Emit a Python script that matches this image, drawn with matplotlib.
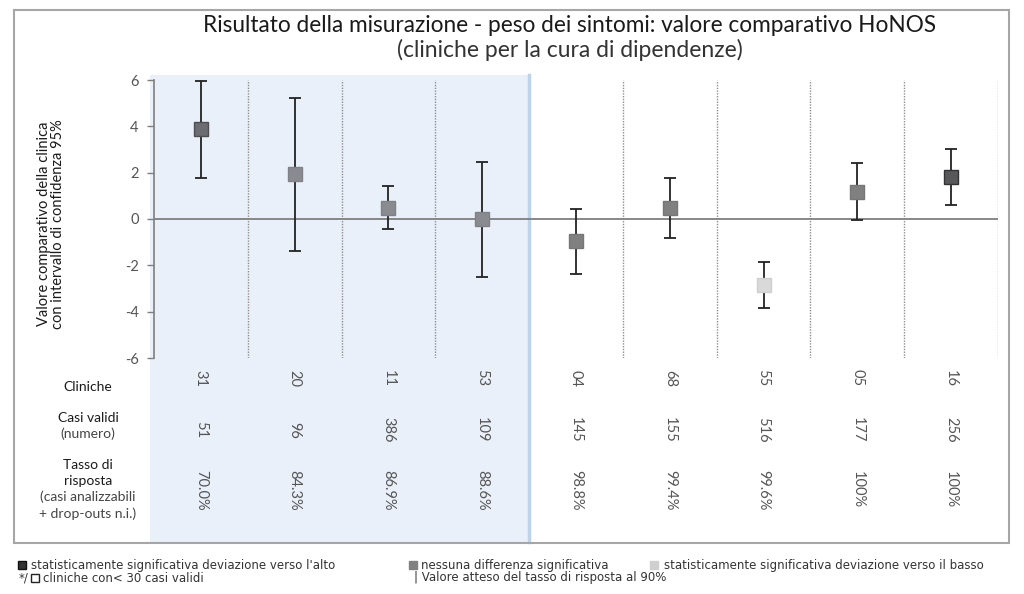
import matplotlib
matplotlib.use("Agg")
import matplotlib.pyplot as plt
from matplotlib.patches import Rectangle
from matplotlib.lines import Line2D
from matplotlib.transforms import blended_transform_factory

plt.rcParams['font.family'] = ['Lato', 'DejaVu Sans']

# ---- data ----
clinics = ["31", "20", "11", "53", "04", "68", "55", "05", "16"]
values = [3.88, 1.93, 0.49, 0.01, -0.96, 0.49, -2.85, 1.18, 1.80]
ci_low = [1.78, -1.38, -0.45, -2.49, -2.36, -0.80, -3.84, -0.04, 0.59]
ci_high = [5.95, 5.21, 1.42, 2.47, 0.43, 1.78, -1.86, 2.42, 3.01]
valid_cases = ["51", "96", "386", "109", "145", "155", "516", "177", "256"]
response_rate = ["70.0%", "84.3%", "86.9%", "88.6%", "98.8%", "99.4%", "99.6%", "100%", "100%"]
marker_face = ["#6c6d72", "#898b90", "#898b90", "#898b90", "#808080", "#808080", "#d9d9d9", "#808080", "#58585a"]
marker_edge = ["#4d4e52", "#7f8186", "#7f8186", "#7f8186", "#767676", "#767676", "#cfcfcf", "#767676", "#333333"]
n_shaded = 4
yticks = [-6, -4, -2, 0, 2, 4, 6]

W, H = 1024, 594
fig = plt.figure(figsize=(W / 100, H / 100), dpi=100)

def fx(px):
    return px / W

def fy(py):
    return 1 - py / H

ax = fig.add_axes([fx(154), fy(358), fx(998) - fx(154), fy(80) - fy(358)])
ax.set_xlim(-0.5, len(clinics) - 0.5)
ax.set_ylim(-6, 6)
ax.patch.set_alpha(0)

bt = blended_transform_factory(ax.transData, fig.transFigure)

# outer frame
fig.patches.append(Rectangle((fx(14), fy(543)), fx(1009) - fx(14), fy(10) - fy(543),
                             transform=fig.transFigure, fill=False,
                             edgecolor="#a6a6a6", linewidth=1.5, zorder=0))

# blue shaded region
shade = Rectangle((-0.54, fy(542)), n_shaded - 0.5 + 0.54, fy(75) - fy(542),
                  transform=bt, facecolor="#e9f0f9", edgecolor="none",
                  clip_on=False, zorder=0)
ax.add_patch(shade)
ax.add_line(Line2D([n_shaded - 0.5, n_shaded - 0.5], [fy(542), fy(75)], transform=bt,
                   color="#bcd3ea", linewidth=2.5, clip_on=False, zorder=1))

# vertical dotted separators
for i in range(len(clinics)):
    xv = i + 0.5
    if xv == n_shaded - 0.5:
        continue
    ax.axvline(xv, ymin=0, ymax=1, color="#8f8f8f", linestyle=(0, (1, 1)),
               linewidth=1.0, zorder=1)

# zero line
ax.axhline(0, color="#7f7f7f", linewidth=1.3, zorder=2)

# error bars + markers
x = list(range(len(clinics)))
for i in x:
    ax.errorbar(i, values[i],
                yerr=[[values[i] - ci_low[i]], [ci_high[i] - values[i]]],
                fmt="none", ecolor="#222222", elinewidth=1.3, capsize=4.2,
                capthick=1.3, zorder=3)
    ax.plot(i, values[i], marker="s", markersize=10.5, markerfacecolor=marker_face[i],
            markeredgecolor=marker_edge[i], markeredgewidth=1.0, linestyle="none", zorder=4)

# axes styling
for s in ["top", "right", "bottom"]:
    ax.spines[s].set_visible(False)
ax.spines["left"].set_color("#7f7f7f")
ax.spines["left"].set_linewidth(1.2)
ax.set_xticks([])
ax.set_yticks(yticks)
ax.set_yticklabels([str(t) for t in yticks])
ax.tick_params(axis="y", colors="#7f7f7f", labelcolor="#555555", labelsize=10.5,
               length=5, width=1.0, pad=6)

# titles
fig.text(fx(570), fy(25), "Risultato della misurazione - peso dei sintomi: valore comparativo HoNOS",
         ha="center", va="center", fontsize=16.3, color="#1a1a1a")
fig.text(fx(570), fy(50), "(cliniche per la cura di dipendenze)",
         ha="center", va="center", fontsize=16.5, color="#333333")

# y label
fig.text(fx(51), fy(224), "Valore comparativo della clinica\ncon intervallo di confidenza 95%",
         ha="center", va="center", rotation=90, fontsize=10.5, color="#1a1a1a",
         multialignment="center", linespacing=1.05)

# row labels
lab_kw = dict(ha="center", va="center", fontsize=10, color="#1a1a1a")
sub_kw = dict(ha="center", va="center", fontsize=10, color="#444444")
fig.text(fx(88), fy(387), "Cliniche", **lab_kw)
fig.text(fx(88), fy(418), "Casi validi", **lab_kw)
fig.text(fx(88), fy(434), "(numero)", **sub_kw)
fig.text(fx(88), fy(465), "Tasso di", **lab_kw)
fig.text(fx(88), fy(481), "risposta", **lab_kw)
fig.text(fx(88), fy(497), "(casi analizzabili", **sub_kw)
fig.text(fx(88), fy(514), "+ drop-outs n.i.)", **sub_kw)

# table values
num_kw = dict(ha="center", va="center", rotation=270, fontsize=10.5, color="#555555",
              transform=bt, clip_on=False)
for i in x:
    ax.text(i, fy(378), clinics[i], **num_kw)
    ax.text(i, fy(430), valid_cases[i], **num_kw)
    ax.text(i, fy(490), response_rate[i], **num_kw)

# legend (footer)
leg_font = ['Liberation Sans Narrow', 'DejaVu Sans']
leg_kw = dict(ha="left", va="center", fontsize=8.5, color="#333333", family=leg_font)

def sq(px, py, fc, ec):
    fig.add_artist(Line2D([fx(px)], [fy(py)], transform=fig.transFigure, marker="s",
                          markersize=5.5, markerfacecolor=fc, markeredgecolor=ec,
                          linestyle="none"))

sq(22, 565, "#333333", "#111111")
fig.text(fx(31), fy(565), "statisticamente significativa deviazione verso l'alto", **leg_kw)
fig.text(fx(19), fy(578), "*/", **leg_kw)
sq(35, 578, "#ffffff", "#222222")
fig.text(fx(43), fy(578), "cliniche con< 30 casi validi", **leg_kw)
sq(413, 565, "#808080", "#808080")
fig.text(fx(421), fy(565), "nessuna differenza significativa", **leg_kw)
fig.text(fx(414), fy(578), "| Valore atteso del tasso di risposta al 90%", **leg_kw)
sq(654, 565, "#cfcfcf", "#cfcfcf")
fig.text(fx(664), fy(565), "statisticamente significativa deviazione verso il basso", **leg_kw)

fig.savefig("out.png", dpi=100)
